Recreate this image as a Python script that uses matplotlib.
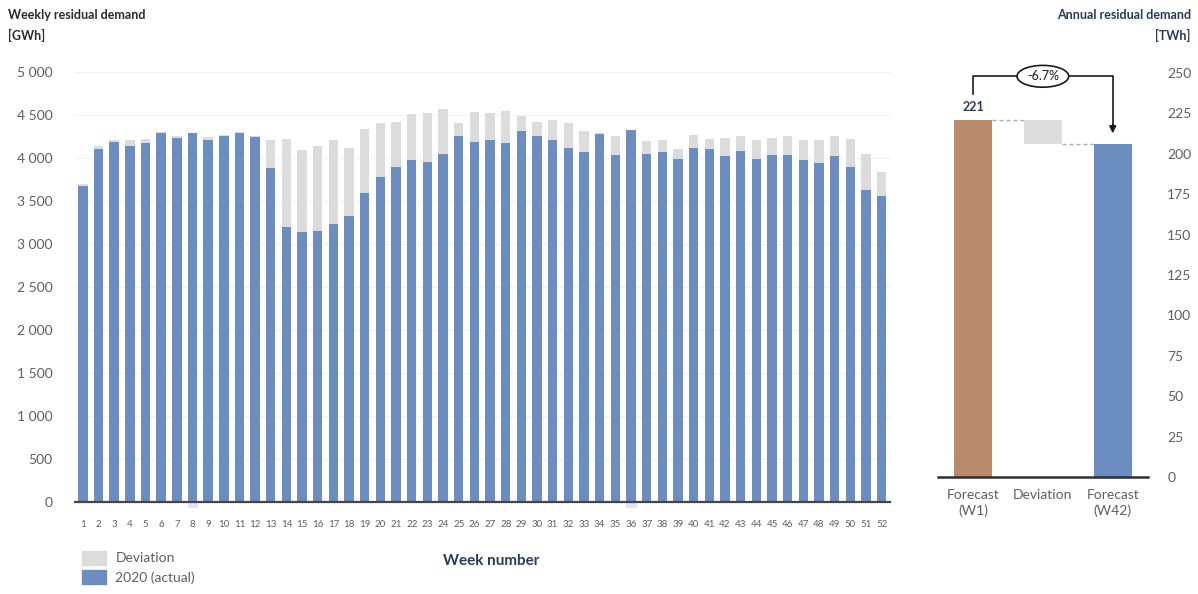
import matplotlib
matplotlib.use("Agg")
import matplotlib.pyplot as plt
from matplotlib.patches import Ellipse, Patch
import numpy as np

plt.rcParams["font.family"] = ["Lato", "DejaVu Sans"]

# Weekly residual demand, GWh
weeks = list(range(1, 53))
actual_2020 = [3680, 4110, 4190, 4140, 4170, 4290, 4230, 4290, 4210, 4250,
               4290, 4240, 3880, 3200, 3140, 3150, 3230, 3330, 3590, 3780,
               3900, 3980, 3950, 4050, 4250, 4190, 4210, 4170, 4310, 4250,
               4210, 4120, 4070, 4280, 4040, 4330, 4050, 4070, 3990, 4120,
               4100, 4020, 4080, 3990, 4040, 4030, 3980, 3940, 4020, 3890,
               3630, 3560]
forecast_w1 = [3700, 4140, 4210, 4210, 4220, 4300, 4250, 4230, 4240, 4270,
               4300, 4250, 4210, 4220, 4090, 4140, 4210, 4120, 4340, 4410,
               4420, 4510, 4520, 4570, 4410, 4540, 4520, 4550, 4490, 4420,
               4440, 4410, 4310, 4290, 4260, 4270, 4200, 4210, 4110, 4270,
               4220, 4230, 4260, 4210, 4230, 4250, 4210, 4210, 4250, 4220,
               4050, 3840]
y_ticks_left = [0, 500, 1000, 1500, 2000, 2500, 3000, 3500, 4000, 4500, 5000]

# Annual residual demand, TWh
annual_labels = ["Forecast\n(W1)", "Deviation", "Forecast\n(W42)"]
annual_w1 = 221
annual_w42 = 206.2
y_ticks_right = [0, 25, 50, 75, 100, 125, 150, 175, 200, 225, 250]

BLUE = "#6B8DC0"
GREY = "#DCDCDC"
BROWN = "#B98A6C"
NAVY = "#2A3A5C"
TXT = "#5A5F6A"

fig = plt.figure(figsize=(11.98, 5.94), dpi=100)

# ---- weekly panel ----
ax = fig.add_axes([0.0626, 0.1549, 0.6803, 0.7239])
deviation = [f - a for f, a in zip(forecast_w1, actual_2020)]
dev_bottom = [a if d >= 0 else 0 for a, d in zip(actual_2020, deviation)]
ax.bar(weeks, actual_2020, width=0.6, color=BLUE, zorder=3)
devbars = ax.bar(weeks, deviation, bottom=dev_bottom, width=0.6,
                 color=GREY, zorder=2)
for b, d in zip(devbars, deviation):
    if d < 0:
        b.set_clip_on(False)
        b.set_color("#E2E5F0")
ax.set_xlim(0.5, 52.53)
ax.set_ylim(0, 5000)
ax.set_yticks(y_ticks_left)
ax.set_yticklabels([f"{v:,}".replace(",", " ") for v in y_ticks_left])
ax.set_xticks(weeks)
ax.set_xticklabels([str(w) for w in weeks])
ax.tick_params(axis="y", length=0, pad=16, labelsize=10, labelcolor=TXT)
ax.tick_params(axis="x", length=0, pad=13, labelsize=7, labelcolor=TXT)
for s in ["top", "right", "left"]:
    ax.spines[s].set_visible(False)
ax.spines["bottom"].set_color("#3F4650")
ax.spines["bottom"].set_linewidth(1.6)
ax.spines["bottom"].set_zorder(5)
ax.grid(axis="y", color="#F2F2F2", linewidth=0.8, zorder=0)
ax.set_axisbelow(True)

fig.text(0.0065, 0.985, "Weekly residual demand\n[GWh]", ha="left", va="top",
         fontsize=9, fontweight="bold", color="#2B2B2B", linespacing=1.7)
fig.text(0.41, 0.055, "Week number", ha="center", va="center",
         fontsize=11, fontweight="bold", color=NAVY)

handles = [Patch(color=GREY, label="Deviation"),
           Patch(color=BLUE, label="2020 (actual)")]
fig.legend(handles=handles, loc="upper left", bbox_to_anchor=(0.058, 0.094),
           frameon=False, fontsize=10, handlelength=1.7, handleheight=1.2,
           labelspacing=0.35, handletextpad=0.7, labelcolor=TXT)

# ---- annual panel ----
ax2 = fig.add_axes([0.783, 0.197, 0.175, 0.680])
xs = np.arange(3)
ax2.bar(xs[0], annual_w1, width=0.54, color=BROWN, zorder=3)
ax2.bar(xs[1], annual_w1 - annual_w42, bottom=annual_w42, width=0.54,
        color=GREY, zorder=3)
ax2.bar(xs[2], annual_w42, width=0.54, color=BLUE, zorder=3)
ax2.plot([xs[0] + 0.27, xs[1] - 0.27], [annual_w1, annual_w1],
         ls=(0, (3, 2)), color="#B0B0B0", lw=1)
ax2.plot([xs[1] + 0.27, xs[2] - 0.27], [annual_w42, annual_w42],
         ls=(0, (3, 2)), color="#B0B0B0", lw=1)
ax2.set_xlim(-0.5, 2.5)
ax2.set_ylim(0, 250)
ax2.set_xticks(xs)
ax2.set_xticklabels(annual_labels, linespacing=1.25)
ax2.yaxis.tick_right()
ax2.set_yticks(y_ticks_right)
ax2.tick_params(axis="y", length=0, pad=14, labelsize=10, labelcolor=TXT)
ax2.tick_params(axis="x", length=0, pad=9, labelsize=10, labelcolor=TXT)
for s in ["top", "right", "left"]:
    ax2.spines[s].set_visible(False)
ax2.spines["bottom"].set_color("#2F2F2F")
ax2.spines["bottom"].set_linewidth(1.8)
ax2.spines["bottom"].set_zorder(5)

ax2.annotate(f"{annual_w1:.0f}", (xs[0], annual_w1), xytext=(0, 5),
             textcoords="offset points", ha="center", va="bottom",
             fontsize=9, fontweight="bold", color=NAVY)

# change bracket between the two forecasts
change = annual_w42 / annual_w1 - 1
y_br = 248
ax2.plot([xs[0], xs[0], xs[2], xs[2]], [237, y_br, y_br, 216],
         color="#1A1A1A", lw=1.2, clip_on=False, zorder=4)
ax2.annotate("", xy=(xs[2], 211), xytext=(xs[2], 220),
             arrowprops=dict(arrowstyle="-|>", color="#1A1A1A", lw=1.2,
                             mutation_scale=10), annotation_clip=False)
ax2.add_patch(Ellipse((xs[1], y_br), 0.74, 13.5, facecolor="white",
                      edgecolor="#1A1A1A", lw=1.2, clip_on=False, zorder=5))
ax2.text(xs[1], y_br, f"{change * 100:.1f}%", ha="center", va="center",
         fontsize=9, color="#1A1A1A", zorder=6, clip_on=False)

fig.text(0.994, 0.985, "Annual residual demand\n[TWh]", ha="right", va="top",
         fontsize=9, fontweight="bold", color=NAVY, linespacing=1.7,
         multialignment="right")

fig.savefig("out.png", dpi=100, facecolor="white")
